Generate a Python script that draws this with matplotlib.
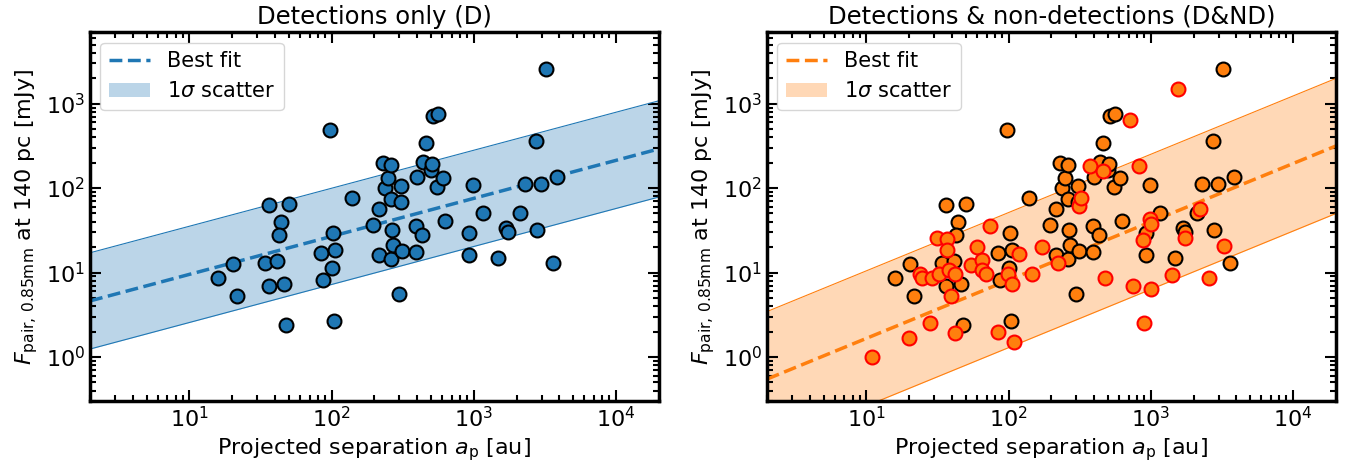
import matplotlib
matplotlib.use('Agg')
import matplotlib.pyplot as plt
import numpy as np

# detections (D): projected separation [au], flux [mJy]
det_sep = [16, 20.3, 21.5, 34.2, 36, 36, 41, 44, 42.5, 46.5, 48, 50, 84, 87, 98, 101, 103, 105, 104,
           140, 196, 214, 216, 229, 236, 248, 262, 261, 263, 268, 270, 306, 310, 312, 296, 390, 392,
           398, 433, 440, 462, 500, 510, 520, 560, 555, 608, 630, 920, 920, 990, 1170, 1470, 1690,
           1750, 2110, 2310, 2750, 2790, 2950, 3230, 3870, 3600]
det_flux = [8.6, 12.6, 5.3, 12.8, 63, 6.9, 13.6, 40, 27.5, 7.3, 2.4, 64, 17, 8.1, 490, 11.4, 29.5, 18.4, 2.7,
            77, 37, 56, 16, 200, 100, 133, 190, 74, 14.3, 32, 21, 68, 107, 18, 5.6, 36, 17.6,
            134, 28, 204, 343, 163, 195, 720, 755, 103, 133, 41, 29, 16, 108, 51, 15, 34,
            30.5, 50, 111, 358, 32, 111, 2540, 134, 12.8]

# non-detections (ND)
nd_sep = [11, 20, 23.8, 24.7, 28, 29, 31.5, 32.6, 37, 37, 38.3, 39.5, 41.7, 41.7, 54, 60, 65, 65.5, 69, 74,
          84, 99, 106, 110, 118, 145, 172, 223, 315, 322, 376, 458, 475, 710, 746, 822, 880, 900, 980,
          1010, 1010, 1420, 1550, 1750, 2220, 2550, 3250]
nd_flux = [1.0, 1.66, 9.7, 8.5, 2.5, 8.5, 25.7, 9.7, 25, 18.4, 10.8, 5.2, 1.93, 9.7, 12.2, 20, 14, 10.8, 9.6, 36,
           2.0, 9.7, 7.4, 1.5, 16.5, 9.6, 20, 12.8, 61, 76, 184, 161, 8.5, 640, 7.0, 184, 24.5, 2.5, 43,
           38, 6.4, 9.3, 1480, 25.7, 57, 8.5, 20.7]

# fits: log10 F = a + b log10 a_p, scatter in dex
fit_D = (0.528, 0.45, 0.57)
fit_DND = (-0.47, 0.69, 0.80)

xx = np.logspace(np.log10(2), np.log10(2e4), 50)


def style_ax(ax):
    ax.set_xscale('log')
    ax.set_yscale('log')
    ax.set_xlim(2, 2e4)
    ax.set_ylim(0.3, 7000)
    ax.tick_params(which='both', direction='in', top=True, right=True, labelsize=16, width=1.5)
    ax.tick_params(which='major', length=8)
    ax.tick_params(which='minor', length=4)
    for s in ax.spines.values():
        s.set_linewidth(2.5)
    ax.set_xlabel(r'Projected separation $a_{\rm p}$ [au]', fontsize=16)
    ax.set_ylabel(r'$F_{\rm pair,\,0.85mm}$ at 140 pc [mJy]', fontsize=16)


def draw_fit(ax, fit, color):
    a, b, s = fit
    yy = 10 ** (a + b * np.log10(xx))
    ax.fill_between(xx, yy / 10 ** s, yy * 10 ** s, color=color, alpha=0.3, lw=0, label=r'1$\sigma$ scatter')
    ax.plot(xx, yy * 10 ** s, color=color, lw=0.8)
    ax.plot(xx, yy / 10 ** s, color=color, lw=0.8)
    ax.plot(xx, yy, '--', color=color, lw=2.5, label='Best fit')


fig = plt.figure(figsize=(13.54, 4.68), dpi=100)
ax1 = fig.add_axes([0.0665, 0.143, 0.42, 0.788])
ax2 = fig.add_axes([0.5665, 0.143, 0.42, 0.788])

draw_fit(ax1, fit_D, 'tab:blue')
ax1.scatter(det_sep, det_flux, s=100, color='tab:blue', edgecolor='black', lw=1.5, zorder=3)
style_ax(ax1)
ax1.set_title('Detections only (D)', fontsize=17.5)

draw_fit(ax2, fit_DND, 'tab:orange')
ax2.scatter(det_sep, det_flux, s=100, color='tab:orange', edgecolor='black', lw=1.5, zorder=3)
ax2.scatter(nd_sep, nd_flux, s=100, color='tab:orange', edgecolor='red', lw=1.5, zorder=3)
style_ax(ax2)
ax2.set_title('Detections & non-detections (D&ND)', fontsize=17.5)

for ax in (ax1, ax2):
    h, l = ax.get_legend_handles_labels()
    ax.legend([h[1], h[0]], [l[1], l[0]], loc='upper left', fontsize=15)

plt.savefig('out.png')
